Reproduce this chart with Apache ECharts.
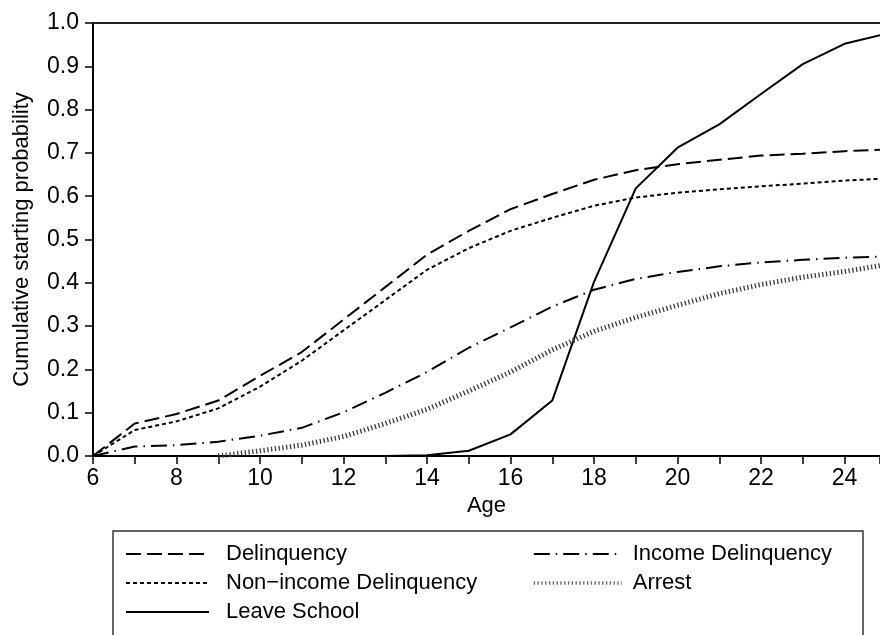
<!DOCTYPE html>
<html><head><meta charset="utf-8">
<script src="https://cdn.jsdelivr.net/npm/echarts@6/dist/echarts.min.js"></script>
<style>html,body{margin:0;padding:0;background:#fff}#c{width:880px;height:635px}</style>
</head><body><div id="c"></div>
<script>
const ages = [6,7,8,9,10,11,12,13,14,15,16,17,18,19,20,21,22,23,24,25];
const delinquency = [0,0.075,0.097,0.128,0.185,0.24,0.315,0.39,0.465,0.52,0.57,0.605,0.638,0.66,0.674,0.684,0.694,0.698,0.704,0.708];
const nonIncome = [0,0.06,0.08,0.11,0.16,0.22,0.29,0.36,0.43,0.48,0.52,0.55,0.578,0.597,0.608,0.616,0.623,0.629,0.636,0.641];
const incomeDel = [0,0.022,0.025,0.033,0.047,0.065,0.101,0.146,0.194,0.25,0.297,0.345,0.384,0.409,0.425,0.438,0.447,0.453,0.458,0.461];
const arrest = [null,null,null,0,0.012,0.025,0.045,0.075,0.108,0.15,0.194,0.245,0.288,0.32,0.348,0.375,0.396,0.413,0.426,0.442];
const leaveSchool = [null,null,null,null,null,null,null,0,0.002,0.012,0.05,0.128,0.402,0.618,0.712,0.766,0.836,0.905,0.952,0.975];

const pairs = arr => ages.map((a,i)=>[a, arr[i]]).filter(p=>p[1]!==null);
const font = 'Liberation Sans, Arial, Helvetica, sans-serif';
const chart = echarts.init(document.getElementById('c'));
function mk(name, arr, lineStyle){
  return {name, type:'line', data:pairs(arr), symbol:'none', animation:false,
    lineStyle:Object.assign({color:'#000', width:2, cap:'butt'}, lineStyle), itemStyle:{color:'#000'}};
}
const legendCommon = {orient:'vertical', top:543, padding:0, itemHeight:14, itemGap:7,
  itemStyle:{color:'transparent', borderColor:'transparent', borderWidth:0, opacity:0},
  textStyle:{fontFamily:font, fontSize:22, color:'#000'}};
chart.setOption({
  animation:false,
  grid:{left:93, top:23, right:0, bottom:179, outerBoundsMode:'none'},
  xAxis:[{type:'value', min:6, max:24.85, interval:1,
    name:'Age', nameLocation:'middle', nameGap:38,
    nameTextStyle:{fontFamily:font, fontSize:22, color:'#000'},
    axisLine:{lineStyle:{color:'#000', width:2}},
    axisTick:{length:8, lineStyle:{color:'#000', width:1.5}},
    axisLabel:{fontFamily:font, fontSize:23, color:'#000', margin:11,
      formatter:v=> (v%2===0 ? String(v) : '')},
    splitLine:{show:false}},
    {type:'value', position:'top', min:6, max:24.85,
     axisLine:{show:true, lineStyle:{color:'#222', width:2}},
     axisTick:{show:false}, axisLabel:{show:false}, splitLine:{show:false}}],
  yAxis:{type:'value', min:0, max:1, interval:0.1,
    name:'Cumulative starting probability', nameLocation:'middle', nameGap:60,
    nameTextStyle:{fontFamily:font, fontSize:22, color:'#000'},
    axisLine:{show:true, lineStyle:{color:'#000', width:2}},
    axisTick:{show:true, length:8, lineStyle:{color:'#000', width:1.5}},
    axisLabel:{fontFamily:font, fontSize:23, color:'#000', margin:14,
      formatter:v=>v.toFixed(1)},
    splitLine:{show:false}},
  legend:[
    Object.assign({data:['Delinquency','Non\u2212income Delinquency','Leave School'],
      left:125, itemWidth:83}, legendCommon,
      {textStyle:Object.assign({}, legendCommon.textStyle, {padding:[0,0,0,12]})}),
    Object.assign({data:['Income Delinquency', {name:'Arrest', lineStyle:{width:3.5, color:'#666'}}],
      left:532, itemWidth:88}, legendCommon,
      {textStyle:Object.assign({}, legendCommon.textStyle, {padding:[0,0,0,6]})})
  ],
  graphic:[{type:'rect', shape:{x:113, y:531, width:750, height:120},
    style:{fill:'none', stroke:'#333', lineWidth:1.5}, silent:true}],
  series:[
    mk('Delinquency', delinquency, {type:[15,6]}),
    mk('Non\u2212income Delinquency', nonIncome, {type:[4,3]}),
    mk('Leave School', leaveSchool, {type:'solid'}),
    mk('Income Delinquency', incomeDel, {type:[16,6,1.5,6]}),
    mk('Arrest', arrest, {type:[1.3,2.5], width:5, color:'#3a3a3a'})
  ]
});
</script></body></html>
